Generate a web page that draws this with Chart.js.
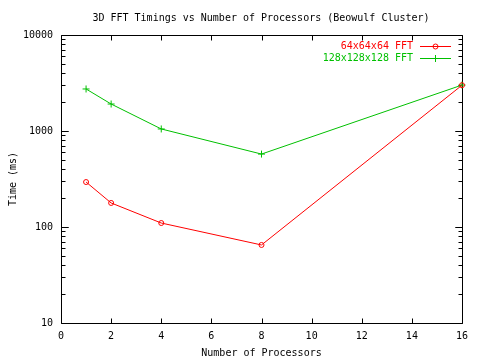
<!DOCTYPE html>
<html><head><meta charset="utf-8">
<script src="https://cdn.jsdelivr.net/npm/chart.js@4/dist/chart.umd.min.js"></script>
<style>html,body{margin:0;padding:0;background:#fff}#wrap{width:480px;height:360px}</style>
</head><body><div id="wrap"><canvas id="c" width="480" height="360"></canvas></div>
<script>
const processors = [1, 2, 4, 8, 16];
const fft64 = [294, 178, 110, 65, 3000];
const fft128 = [2740, 1910, 1050, 575, 3010];
const seriesNames = ['64x64x64 FFT', '128x128x128 FFT'];
const chartTitle = '3D FFT Timings vs Number of Processors (Beowulf Cluster)';
const xTicks = [0, 2, 4, 6, 8, 10, 12, 14, 16];
const yDecades = [10, 100, 1000, 10000];
const FONT = "'DejaVu Sans Mono', 'Liberation Mono', monospace";

const framePlugin = {
  id: 'frame',
  beforeDatasetsDraw(chart) {
    const ctx = chart.ctx, a = chart.chartArea;
    const xs = chart.scales.x, ys = chart.scales.y;
    ctx.save();
    ctx.strokeStyle = '#000'; ctx.lineWidth = 1;
    const L = Math.round(a.left) + 0.5, R = Math.round(a.right) + 0.5;
    const T = Math.round(a.top) + 0.5, B = Math.round(a.bottom) + 0.5;
    ctx.beginPath();
    ctx.rect(L, T, R - L, B - T);
    for (const v of xTicks) {
      const px = Math.round(xs.getPixelForValue(v)) + 0.5;
      ctx.moveTo(px, B); ctx.lineTo(px, B - 5);
      ctx.moveTo(px, T); ctx.lineTo(px, T + 5);
    }
    for (let d = 10; d < 10000; d *= 10) {
      for (let m = 1; m <= 10; m++) {
        const v = m * d;
        if (v > 10000) continue;
        const py = Math.round(ys.getPixelForValue(v)) + 0.5;
        const len = (m === 1 || m === 10) ? 7 : 4;
        ctx.moveTo(L, py); ctx.lineTo(L + len, py);
        ctx.moveTo(R, py); ctx.lineTo(R - len, py);
      }
    }
    ctx.stroke();
    // title
    ctx.font = '10px ' + FONT;
    ctx.fillStyle = '#000';
    ctx.textAlign = 'center'; ctx.textBaseline = 'middle';
    ctx.fillText(chartTitle, 261, 18);
    ctx.restore();
  },
  afterDraw(chart) {
    const ctx = chart.ctx;
    ctx.save();
    ctx.font = '10px ' + FONT;
    ctx.textAlign = 'right'; ctx.textBaseline = 'middle';
    chart.data.datasets.forEach((ds, i) => {
      const y = 46 + i * 12;
      ctx.fillStyle = ds.borderColor;
      ctx.fillText(ds.label, 413, y);
      ctx.strokeStyle = ds.borderColor; ctx.lineWidth = 1;
      ctx.beginPath();
      ctx.moveTo(420, y + 0.5); ctx.lineTo(451, y + 0.5);
      ctx.stroke();
      ctx.beginPath();
      if (i === 0) {
        ctx.arc(435.5, y + 0.5, 2.5, 0, Math.PI * 2);
        ctx.stroke();
      } else {
        ctx.moveTo(435.5, y - 3); ctx.lineTo(435.5, y + 4);
        ctx.moveTo(432, y + 0.5); ctx.lineTo(439, y + 0.5);
        ctx.stroke();
      }
    });
    ctx.restore();
  }
};

new Chart(document.getElementById('c'), {
  type: 'line',
  data: {
    datasets: [
      { label: seriesNames[0], data: processors.map((p, i) => ({x: p, y: fft64[i]})),
        borderColor: '#ff0000', backgroundColor: 'rgba(0,0,0,0)', borderWidth: 1,
        pointStyle: 'circle', pointRadius: 2.5, pointBorderWidth: 1, tension: 0, clip: false },
      { label: seriesNames[1], data: processors.map((p, i) => ({x: p, y: fft128[i]})),
        borderColor: '#00c000', backgroundColor: 'rgba(0,0,0,0)', borderWidth: 1,
        pointStyle: 'cross', pointRadius: 3.5, pointBorderWidth: 1, tension: 0, clip: false }
    ]
  },
  options: {
    responsive: false, animation: false,
    layout: { padding: { left: 0, right: 18, top: 35, bottom: 0 } },
    plugins: {
      legend: { display: false },
      tooltip: { enabled: false },
      title: { display: false }
    },
    scales: {
      x: {
        type: 'linear', min: 0, max: 16,
        afterFit(s) { s.height = 37; },
        afterBuildTicks(s) { s.ticks = xTicks.map(v => ({value: v})); },
        grid: { display: false, drawTicks: false },
        border: { display: false },
        ticks: { color: '#000', font: { family: FONT, size: 10 }, padding: 7, maxRotation: 0 },
        title: { display: true, text: 'Number of Processors', color: '#000',
          font: { family: FONT, size: 10 }, padding: { top: 0, bottom: 1 } }
      },
      y: {
        type: 'logarithmic', min: 10, max: 10000,
        afterFit(s) { s.width = 61; },
        afterBuildTicks(s) { s.ticks = yDecades.map(v => ({value: v, major: true})); },
        grid: { display: false, drawTicks: false },
        border: { display: false },
        ticks: { color: '#000', font: { family: FONT, size: 10 }, padding: 8, autoSkip: false,
          callback: v => String(v) },
        title: { display: true, text: 'Time (ms)', color: '#000',
          font: { family: FONT, size: 10 }, padding: { top: 7, bottom: 0 } }
      }
    }
  },
  plugins: [framePlugin]
});
</script></body></html>
